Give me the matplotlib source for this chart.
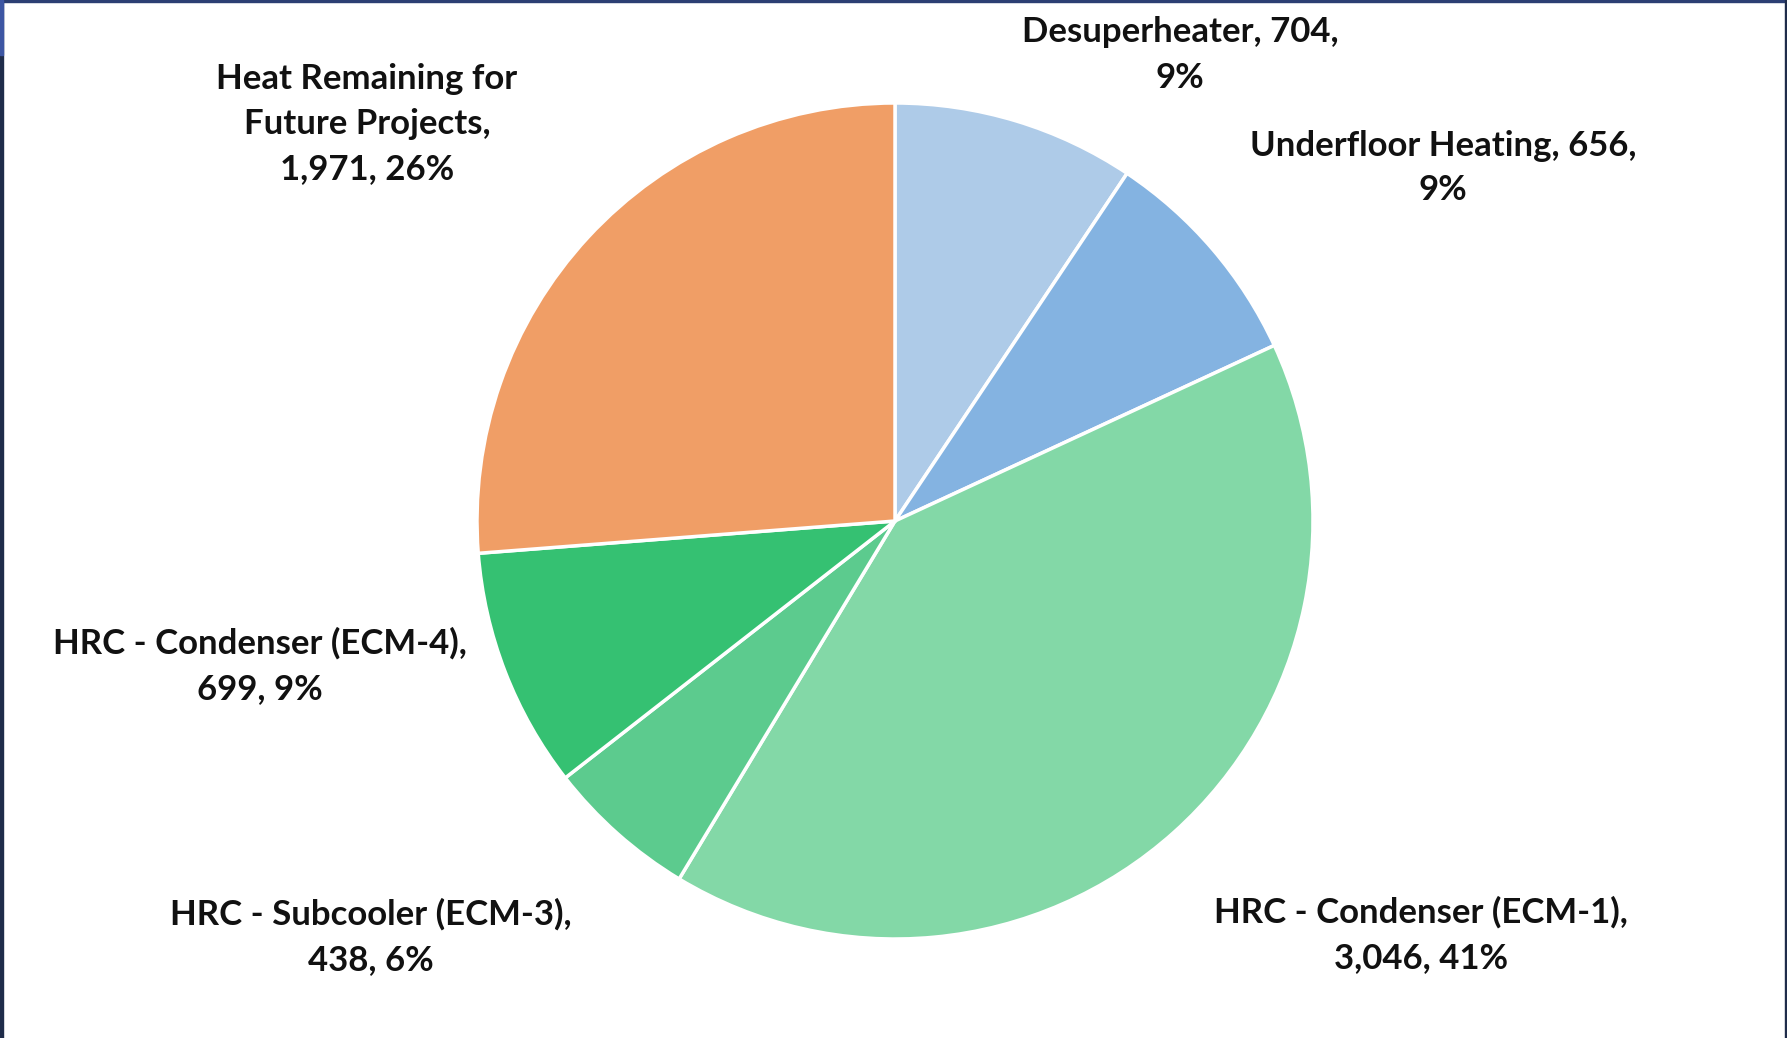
import matplotlib.pyplot as plt
from matplotlib.patches import Rectangle

# slices, clockwise from 12 o'clock
names = ['Desuperheater', 'Underfloor Heating', 'HRC - Condenser (ECM-1)',
         'HRC - Subcooler (ECM-3)', 'HRC - Condenser (ECM-4)',
         'Heat Remaining for Future Projects']
values = [704, 656, 3046, 438, 699, 1971]
colors = ['#aecbe8', '#84b3e1', '#83d8a7', '#5ccb8e', '#35c172', '#f09e66']

# label text layout (line breaks as in the original)
label_fmt = ['{n}, {v},\n{p}', '{n}, {v},\n{p}', '{n},\n{v}, {p}',
             '{n},\n{v}, {p}', '{n},\n{v}, {p}', 'Heat Remaining for\nFuture Projects,\n{v}, {p}']
label_pos = [(1180, 983), (1443, 870), (1421, 103), (371, 101), (260, 372), (367, 914)]

plt.rcParams['font.family'] = ['Lato', 'DejaVu Sans']

fig = plt.figure(figsize=(17.87, 10.38), dpi=100)
ax = fig.add_axes([0, 0, 1, 1])

ax.pie(values, colors=colors, startangle=90, counterclock=False,
       center=(895, 517), radius=418, frame=True,
       wedgeprops=dict(edgecolor='white', linewidth=2.5))
ax.set_xlim(0, 1787)
ax.set_ylim(0, 1038)
ax.set_aspect('equal')
ax.axis('off')

total = sum(values)
for n, v, fmt, (x, y) in zip(names, values, label_fmt, label_pos):
    txt = fmt.format(n=n, v=f'{v:,}', p=f'{round(100 * v / total)}%')
    ax.text(x, y, txt, ha='center', va='center', fontsize=25,
            fontweight='bold', color='#111111', linespacing=1.5)

# frame of the screenshot
fig.patches.append(Rectangle((0, 0), 3 / 1787, 1, transform=fig.transFigure,
                             color='#1f2c4a', zorder=10))
fig.patches.append(Rectangle((0, 1 - 55 / 1038), 3 / 1787, 55 / 1038,
                             transform=fig.transFigure, color='#3d56a3', zorder=11))
fig.patches.append(Rectangle((0, 1 - 2 / 1038), 1, 2 / 1038, transform=fig.transFigure,
                             color='#2c3f73', zorder=10))
fig.patches.append(Rectangle((1 - 2 / 1787, 0), 2 / 1787, 1, transform=fig.transFigure,
                             color='#1f2c4a', zorder=10))

fig.savefig('out.png', dpi=100)
